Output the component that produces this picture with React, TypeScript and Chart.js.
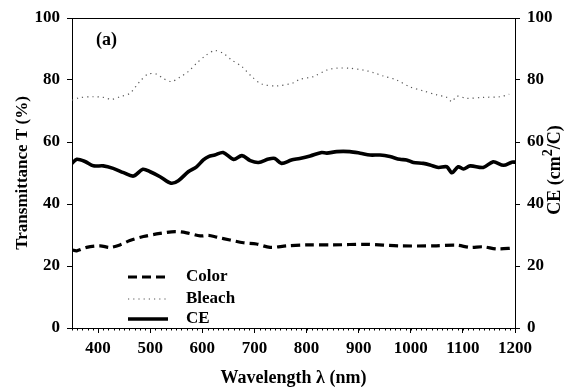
import React, { useEffect, useRef } from 'react';
import { Chart, registerables } from 'chart.js';

Chart.register(...registerables);

// ---- Data ----
const colorWavelengths = [350, 359, 378, 404, 423, 442, 461, 487, 519, 548, 570, 596, 612, 628, 653, 679, 704, 730, 762, 800, 851, 915, 979, 1044, 1088, 1114, 1139, 1165, 1197];
const colorValues = [25.2, 24.9, 26.0, 26.5, 26.0, 26.8, 28.2, 29.5, 30.5, 31.1, 30.7, 29.7, 29.9, 29.3, 28.4, 27.5, 27.1, 26.0, 26.5, 26.8, 26.8, 27.0, 26.5, 26.5, 26.7, 26.0, 26.2, 25.5, 25.8];

const bleachWavelengths = [350, 365, 391, 410, 426, 442, 461, 480, 496, 512, 525, 541, 557, 573, 589, 608, 624, 640, 656, 676, 695, 714, 743, 775, 787, 813, 839, 858, 883, 909, 928, 947, 973, 998, 1024, 1050, 1069, 1079, 1088, 1107, 1139, 1171, 1189];
const bleachValues = [73.5, 74.3, 74.6, 74.4, 73.8, 74.6, 75.7, 79.5, 81.9, 81.9, 80.5, 79.5, 80.9, 82.7, 85.4, 88.1, 89.5, 88.6, 86.5, 84.3, 81.1, 78.7, 78.1, 79.1, 80.2, 81.1, 83.2, 83.8, 83.8, 83.2, 82.4, 81.3, 80.0, 77.8, 76.5, 75.2, 74.4, 73.0, 74.8, 74.1, 74.4, 74.6, 75.4];

const ceWavelengths = [350, 359, 375, 391, 410, 429, 449, 468, 486, 500, 519, 540, 554, 573, 589, 602, 612, 624, 640, 660, 676, 692, 708, 727, 739, 752, 771, 787, 807, 829, 839, 858, 883, 903, 922, 941, 960, 979, 992, 1005, 1024, 1037, 1053, 1069, 1079, 1091, 1101, 1114, 1139, 1158, 1178, 1194, 1200];
const ceValues = [53.1, 54.4, 53.7, 52.3, 52.3, 51.5, 50.1, 49.0, 51.2, 50.4, 48.8, 46.7, 47.5, 50.4, 52.0, 54.2, 55.3, 55.8, 56.6, 54.4, 55.6, 54.0, 53.4, 54.5, 54.7, 53.1, 54.2, 54.7, 55.5, 56.6, 56.4, 56.9, 56.9, 56.4, 55.8, 55.8, 55.3, 54.4, 54.2, 53.4, 53.1, 52.6, 51.8, 52.0, 50.1, 52.0, 51.3, 52.3, 51.8, 53.6, 52.5, 53.5, 53.5];

const xTickLabels = [400, 500, 600, 700, 800, 900, 1000, 1100, 1200];
const yTickLabels = [0, 20, 40, 60, 80, 100];

const X_MIN = 350;
const X_MAX = 1200;
const X_MINOR_STEP = 10;

const FONT = "'Liberation Serif', 'Times New Roman', serif";

const toPoints = (xs: number[], ys: number[]) => xs.map((x, i) => ({ x, y: ys[i] }));

const decorPlugin = {
  id: 'decor',
  afterDraw(chart: any) {
    const { ctx, chartArea: ca, scales } = chart;
    ctx.save();
    ctx.strokeStyle = '#000';
    ctx.lineWidth = 1;
    // top border of the frame
    ctx.beginPath();
    ctx.moveTo(ca.left, Math.round(ca.top) + 0.5);
    ctx.lineTo(ca.right, Math.round(ca.top) + 0.5);
    ctx.stroke();
    // minor ticks on the x axis
    const xs = scales.x;
    ctx.beginPath();
    for (let v = X_MIN; v <= X_MAX; v += X_MINOR_STEP) {
      const px = Math.round(xs.getPixelForValue(v)) + 0.5;
      ctx.moveTo(px, ca.bottom);
      ctx.lineTo(px, ca.bottom + 2.5);
    }
    ctx.stroke();

    // panel label
    ctx.fillStyle = '#000';
    ctx.font = `bold 18px ${FONT}`;
    ctx.textBaseline = 'middle';
    ctx.textAlign = 'left';
    ctx.fillText('(a)', ca.left + 24, ca.top + 22);

    // legend
    const offsets = [51, 29, 9];
    chart.data.datasets.forEach((ds: any, i: number) => {
      const y = ca.bottom - offsets[i];
      ctx.save();
      ctx.strokeStyle = ds.borderColor;
      ctx.lineWidth = ds.borderWidth;
      ctx.setLineDash(ds.borderDash || []);
      ctx.beginPath();
      ctx.moveTo(ca.left + 56, y);
      ctx.lineTo(ca.left + 96, y);
      ctx.stroke();
      ctx.restore();
      ctx.font = `bold 17px ${FONT}`;
      ctx.fillStyle = '#000';
      ctx.textBaseline = 'middle';
      ctx.fillText(ds.label, ca.left + 114, y);
    });

    // right axis title: CE (cm^2/C), reading bottom to top
    const cx = scales.y2.right - 12;
    const cy = (ca.top + ca.bottom) / 2 - 3;
    ctx.translate(cx, cy);
    ctx.rotate(-Math.PI / 2);
    const big = `bold 18px ${FONT}`;
    const small = `bold 14px ${FONT}`;
    const p1 = 'CE (cm';
    const p2 = '2';
    const p3 = '/C)';
    ctx.font = big;
    const w1 = ctx.measureText(p1).width;
    const w3 = ctx.measureText(p3).width;
    ctx.font = small;
    const w2 = ctx.measureText(p2).width;
    let sx = -(w1 + w2 + w3) / 2;
    ctx.textBaseline = 'middle';
    ctx.font = big;
    ctx.fillText(p1, sx, 0);
    sx += w1;
    ctx.font = small;
    ctx.fillText(p2, sx, -7);
    sx += w2;
    ctx.font = big;
    ctx.fillText(p3, sx, 0);
    ctx.restore();
  },
};

export default function App() {
  const canvasRef = useRef<HTMLCanvasElement | null>(null);

  useEffect(() => {
    const canvas = canvasRef.current;
    if (!canvas) return;
    const tickFont = { family: FONT, size: 17, weight: 'bold' as const };
    const plain = (v: any) => String(v);
    const chart = new Chart(canvas, {
      type: 'line',
      data: {
        datasets: [
          {
            label: 'Color',
            data: toPoints(colorWavelengths, colorValues),
            borderColor: '#000',
            borderWidth: 3.2,
            borderDash: [9, 5],
            pointRadius: 0,
            tension: 0.3,
            fill: false,
            yAxisID: 'y',
          },
          {
            label: 'Bleach',
            data: toPoints(bleachWavelengths, bleachValues),
            borderColor: '#555',
            borderWidth: 1.2,
            borderDash: [1.2, 4],
            pointRadius: 0,
            tension: 0.3,
            fill: false,
            yAxisID: 'y',
          },
          {
            label: 'CE',
            data: toPoints(ceWavelengths, ceValues),
            borderColor: '#000',
            borderWidth: 3.6,
            pointRadius: 0,
            tension: 0.3,
            fill: false,
            yAxisID: 'y2',
          },
        ],
      },
      options: {
        animation: false,
        responsive: false,
        devicePixelRatio: 1,
        layout: { padding: { top: 18, left: 0, right: 0, bottom: 0 } },
        plugins: {
          legend: { display: false },
          tooltip: { enabled: false },
          title: { display: false },
        },
        scales: {
          x: {
            type: 'linear',
            min: X_MIN,
            max: X_MAX,
            afterBuildTicks: (s: any) => {
              s.ticks = xTickLabels.map((v) => ({ value: v }));
            },
            afterFit: (s: any) => {
              s.height = 61;
            },
            border: { color: '#000', width: 1 },
            grid: { drawOnChartArea: false, drawTicks: true, tickLength: 5, color: '#000' },
            ticks: { color: '#000', font: tickFont, padding: 5, maxRotation: 0, callback: plain },
            title: {
              display: true,
              text: 'Wavelength λ (nm)',
              color: '#000',
              font: { family: FONT, size: 18, weight: 'bold' },
              padding: { top: 0, bottom: 0 },
            },
          },
          y: {
            type: 'linear',
            position: 'left',
            min: 0,
            max: 100,
            afterBuildTicks: (s: any) => {
              s.ticks = yTickLabels.map((v) => ({ value: v }));
            },
            afterFit: (s: any) => {
              s.width = 72;
            },
            border: { color: '#000', width: 1 },
            grid: { drawOnChartArea: false, drawTicks: true, tickLength: 5, color: '#000' },
            ticks: { color: '#000', font: tickFont, padding: 7, callback: plain },
            title: {
              display: true,
              text: 'Transmittance T (%)',
              color: '#000',
              font: { family: FONT, size: 17, weight: 'bold' },
              padding: { top: 12, bottom: 0 },
            },
          },
          y2: {
            type: 'linear',
            position: 'right',
            min: 0,
            max: 100,
            afterBuildTicks: (s: any) => {
              s.ticks = yTickLabels.map((v) => ({ value: v }));
            },
            afterFit: (s: any) => {
              s.width = 52;
            },
            border: { color: '#000', width: 1 },
            grid: { drawOnChartArea: false, drawTicks: true, tickLength: 5, color: '#000' },
            ticks: { color: '#000', font: tickFont, padding: 7, callback: plain },
          },
        },
      },
      plugins: [decorPlugin],
    });
    return () => chart.destroy();
  }, []);

  return (
    <div style={{ position: 'fixed', left: 0, top: 0, width: 567, height: 389, background: '#fff' }}>
      <canvas ref={canvasRef} width={567} height={389} style={{ display: 'block' }} />
    </div>
  );
}
